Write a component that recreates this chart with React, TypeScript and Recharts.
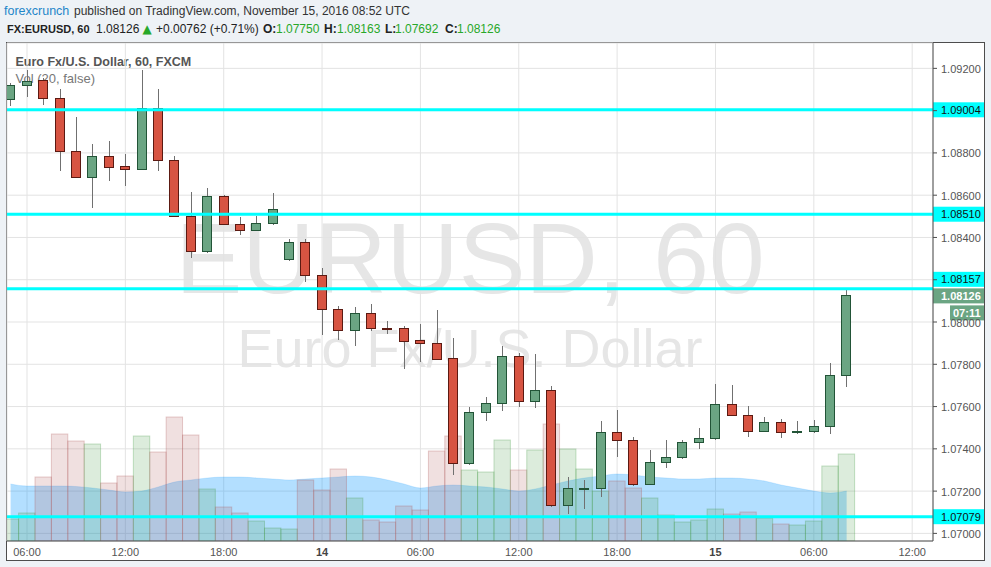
import React from "react";
import { ComposedChart, Bar, Area, XAxis, YAxis, CartesianGrid, ReferenceLine } from "recharts";

// ---- data (hourly candles, EUR/USD, Nov 11 05:00 -> Nov 15 08:00 UTC) ----
const opens = [
  1.09053, 1.0912, 1.09143, 1.09058, 1.08807, 1.08687, 1.08784, 1.08736, 1.08725, 1.09014,
  1.08765, 1.085, 1.08334, 1.08594, 1.08462, 1.08436, 1.08467, 1.08296, 1.08377, 1.08221,
  1.0806, 1.07961, 1.08041, 1.07971, 1.0797, 1.07913, 1.07899, 1.07828, 1.07331, 1.07573,
  1.07615, 1.07838, 1.07625, 1.07677, 1.07133, 1.07212, 1.07213, 1.07478, 1.0744, 1.07235,
  1.07336, 1.0736, 1.07431, 1.0745, 1.0761, 1.07558, 1.07483, 1.07525, 1.07479, 1.07483,
  1.07506, 1.0775,
];
const highs = [
  1.09129, 1.09192, 1.09154, 1.09102, 1.08968, 1.08842, 1.08857, 1.08795, 1.09192, 1.09102,
  1.08785, 1.08615, 1.08634, 1.086, 1.08495, 1.08503, 1.0861, 1.08392, 1.08392, 1.08254,
  1.08075, 1.08069, 1.08085, 1.08004, 1.07981, 1.0799, 1.08057, 1.07923, 1.07596, 1.07645,
  1.07886, 1.07852, 1.07848, 1.07697, 1.07266, 1.07252, 1.07531, 1.07583, 1.07454, 1.07394,
  1.07442, 1.07442, 1.07497, 1.07705, 1.07702, 1.07602, 1.0755, 1.07539, 1.07531, 1.07536,
  1.07806, 1.08163,
];
const lows = [
  1.09023, 1.09063, 1.09026, 1.08716, 1.0868, 1.08541, 1.08668, 1.08643, 1.0872, 1.08716,
  1.08498, 1.08301, 1.08325, 1.0846, 1.08413, 1.0843, 1.08459, 1.0829, 1.0819, 1.07938,
  1.07915, 1.07888, 1.07959, 1.07944, 1.07779, 1.07811, 1.07821, 1.07276, 1.07325, 1.07533,
  1.0758, 1.07599, 1.07594, 1.07126, 1.0709, 1.07117, 1.07173, 1.07363, 1.07225, 1.0723,
  1.0731, 1.0735, 1.07401, 1.07443, 1.07555, 1.07457, 1.0748, 1.07452, 1.0747, 1.07473,
  1.07471, 1.07692,
];
const closes = [
  1.0912, 1.09142, 1.09058, 1.08807, 1.08687, 1.08784, 1.08734, 1.08725, 1.09014, 1.08765,
  1.08501, 1.08334, 1.08594, 1.08462, 1.08436, 1.08467, 1.08533, 1.08377, 1.08221, 1.0806,
  1.07961, 1.08041, 1.0797, 1.07968, 1.07911, 1.07899, 1.07826, 1.07331, 1.07573, 1.07615,
  1.07838, 1.07625, 1.07677, 1.07133, 1.07213, 1.07214, 1.07478, 1.0744, 1.07235, 1.07336,
  1.0736, 1.07431, 1.0745, 1.0761, 1.07558, 1.07483, 1.07525, 1.07478, 1.07483, 1.07506,
  1.0775, 1.08126,
];
const volumes = [
  220, 280, 640, 1070, 1000, 970, 580, 650, 1050, 890,
  1240, 1060, 520, 340, 280, 200, 130, 120, 610, 510,
  720, 430, 210, 190, 350, 310, 900, 1050, 710, 690,
  1010, 710, 910, 1170, 920, 720, 500, 600, 530, 430,
  260, 190, 210, 320, 270, 290, 230, 170, 160, 200,
  750, 870,
];
const volumeMA = [
  570, 550, 550, 550, 545, 530, 510, 490, 500, 540,
  590, 610, 630, 640, 640, 630, 620, 610, 620, 630,
  640, 650, 640, 610, 570, 530, 550, 560, 550, 540,
  520, 500, 520, 560, 600, 630, 650, 670, 660, 640,
  630, 620, 620, 630, 630, 620, 600, 560, 530, 500,
  480, 500,
];

const timeTickIndex = [1, 7, 13, 19, 25, 31, 37, 43, 49, 55];
const timeTickLabels = ["06:00", "12:00", "18:00", "14", "06:00", "12:00", "18:00", "15", "06:00", "12:00"];
const priceTicks = [1.07, 1.072, 1.074, 1.076, 1.078, 1.08, 1.082, 1.084, 1.086, 1.088, 1.09, 1.092];
const hiddenPriceTicks = [1.082, 1.09];
const levelLines = [1.09004, 1.0851, 1.08157, 1.07079];
const levelShift = [0, 0, -9.5, 0];
const lastPrice = 1.08126;
const countdown = "07:11";

const data = opens.map((o, i) => ({
  i,
  open: o,
  high: highs[i],
  low: lows[i],
  close: closes[i],
  vol: volumes[i],
  ma: volumeMA[i],
}));

const FONT = "'Liberation Sans', Arial, sans-serif";
const UP_FILL = "#6ba583";
const UP_EDGE = "#225437";
const DN_FILL = "#d75442";
const DN_EDGE = "#5c1a12";

const renderCandle = (props: any) => {
  const { x, y, width, height, payload } = props;
  if (!payload || height == null || isNaN(height)) return <g />;
  const { open, close, high, low } = payload;
  const k = height / (high - low);
  const yOpen = y + (high - open) * k;
  const yClose = y + (high - close) * k;
  const up = close >= open;
  const cx = Math.round(x + width / 2) + 0.5;
  const top = Math.round(Math.min(yOpen, yClose)) + 0.5;
  const bot = Math.round(Math.max(yOpen, yClose)) + 0.5;
  const bh = Math.max(bot - top, 1);
  return (
    <g>
      <line x1={cx} x2={cx} y1={Math.round(y)} y2={Math.round(y + height)} stroke="#707070" strokeWidth={1} />
      <rect x={cx - 5} y={top} width={9} height={bh} fill={up ? UP_FILL : DN_FILL} stroke={up ? UP_EDGE : DN_EDGE} strokeWidth={1} />
    </g>
  );
};

const renderVol = (props: any) => {
  const { x, y, width, height, payload } = props;
  if (!payload || height == null || isNaN(height)) return <g />;
  const up = payload.close >= payload.open;
  return (
    <rect
      x={x - 0.2}
      y={y}
      width={width + 0.4}
      height={height}
      fill={up ? "rgba(71,155,71,0.19)" : "rgba(175,90,90,0.19)"}
      stroke={up ? "rgba(71,155,71,0.3)" : "rgba(175,90,90,0.3)"}
      strokeWidth={1}
    />
  );
};

const PriceTick = (props: any) => {
  const { x, y, payload } = props;
  const v = payload.value;
  if (hiddenPriceTicks.some((h) => Math.abs(h - v) < 1e-9)) return null;
  return (
    <text x={x} y={y} dy={4.5} textAnchor="start" fontSize={11} fill="#555" fontFamily={FONT}>
      {v.toFixed(5)}
    </text>
  );
};

const TimeTick = (props: any) => {
  const { x, y, payload } = props;
  const idx = timeTickIndex.indexOf(payload.value);
  const label = timeTickLabels[idx] ?? "";
  const isDay = label.indexOf(":") < 0;
  return (
    <text x={x} y={y} dy={9} textAnchor="middle" fontSize={11} fontWeight={isDay ? "bold" : "normal"} fill={isDay ? "#444" : "#555"} fontFamily={FONT}>
      {label}
    </text>
  );
};

const levelLabel = (value: number, shift: number) => (p: any) => {
  const vb = p.viewBox || {};
  const x = (vb.x ?? 0) + (vb.width ?? 0);
  const cy = (vb.y ?? 0) + shift;
  return (
    <g>
      <rect x={x} y={cy - 7.5} width={51} height={15} fill="#00ffff" />
      <text x={x + 8} y={cy + 4} fontSize={11} fill="#111" fontFamily={FONT}>
        {value.toFixed(5)}
      </text>
    </g>
  );
};

const lastLabel = (value: number) => (p: any) => {
  const vb = p.viewBox || {};
  const x = (vb.x ?? 0) + (vb.width ?? 0);
  const cy = (vb.y ?? 0) + 0.5;
  return (
    <g>
      <rect x={x} y={cy - 7.5} width={51} height={15} fill={UP_FILL} />
      <text x={x + 8} y={cy + 4} fontSize={11} fontWeight="bold" fill="#fff" fontFamily={FONT}>
        {value.toFixed(5)}
      </text>
      <rect x={x + 17} y={cy + 9.5} width={34} height={15} fill={UP_FILL} />
      <text x={x + 20} y={cy + 21} fontSize={11} fontWeight="bold" fill="#fff" fontFamily={FONT}>
        {countdown}
      </text>
    </g>
  );
};

const Background = () => (
  <svg width={991} height={567} style={{ position: "absolute", left: 0, top: 0 }}>
    <rect x={0} y={0} width={991} height={567} fill="#eef2f6" />
    <rect x={6.5} y={42.5} width={978} height={518} fill="#ffffff" stroke="#4d4d4d" strokeWidth={1} />
    <text y={15} fontSize={12} fontFamily={FONT}>
      <tspan x={4} fill="#1f86c9" fontSize={12.5}>forexcrunch</tspan>
      <tspan x={74} fill="#333">published on TradingView.com, November 15, 2016 08:52 UTC</tspan>
    </text>
    <text y={33} fontSize={12} fontFamily={FONT} fill="#222">
      <tspan x={7} fontWeight="bold" fontSize={11}>FX:EURUSD, 60</tspan>
      <tspan x={96}>1.08126</tspan>
      <tspan x={142.5} fill="#28a828" fontFamily="'DejaVu Sans', sans-serif" fontSize={12}>▲</tspan>
      <tspan x={156}>+0.00762 (+0.71%)</tspan>
      <tspan x={263} fontWeight="bold">O:</tspan>
      <tspan x={276} fill="#28a828">1.07750</tspan>
      <tspan x={324} fontWeight="bold">H:</tspan>
      <tspan x={337} fill="#28a828">1.08163</tspan>
      <tspan x={385} fontWeight="bold">L:</tspan>
      <tspan x={395} fill="#28a828">1.07692</tspan>
      <tspan x={445} fontWeight="bold">C:</tspan>
      <tspan x={457} fill="#28a828">1.08126</tspan>
    </text>
    <text x={470} y={293} textAnchor="middle" fontSize={100} fill="#e6e6e6" fontFamily={FONT}>
      EURUSD, 60
    </text>
    <text x={470} y={367} textAnchor="middle" fontSize={54} fill="#e6e6e6" fontFamily={FONT}>
      Euro Fx/U.S. Dollar
    </text>
    <text x={15.5} y={66} fontSize={12.5} fontWeight="bold" fill="#555" fontFamily={FONT}>
      Euro Fx/U.S. Dollar, 60, FXCM
    </text>
    <text x={15.5} y={83} fontSize={13} fill="#777" fontFamily={FONT}>
      Vol (20, false)
    </text>
  </svg>
);

export default function App() {
  return (
    <div style={{ position: "absolute", left: 0, top: 0, width: 991, height: 567, overflow: "hidden" }}>
      <Background />
      <div style={{ position: "absolute", left: 0, top: 0 }}>
        <ComposedChart width={991} height={567} data={data} margin={{ top: 43, right: 7, bottom: 7, left: 7 }}>
          <CartesianGrid xAxisId="px" yAxisId="price" stroke="#e3e3e3" />
          <XAxis
            xAxisId="px"
            dataKey="i"
            type="number"
            domain={[-0.22, 56.27]}
            allowDataOverflow
            ticks={timeTickIndex}
            interval={0}
            height={19}
            tickSize={4}
            tickMargin={2}
            tickLine={false}
            axisLine={{ stroke: "#4d4d4d" }}
            tick={<TimeTick />}
          />
          <XAxis xAxisId="vx" dataKey="i" type="number" domain={[-0.22, 56.27]} allowDataOverflow hide />
          <YAxis
            yAxisId="price"
            orientation="right"
            domain={[1.06964, 1.0932]}
            allowDataOverflow
            ticks={priceTicks}
            interval={0}
            width={51}
            tickSize={4}
            tickMargin={4}
            axisLine={{ stroke: "#4d4d4d" }}
            tickLine={{ stroke: "#4d4d4d" }}
            tick={<PriceTick />}
          />
          <YAxis yAxisId="vol" domain={[0, 4980]} allowDataOverflow hide />
          <Bar xAxisId="vx" yAxisId="vol" dataKey="vol" barSize={16} shape={renderVol} isAnimationActive={false} />
          <Area
            xAxisId="vx"
            yAxisId="vol"
            dataKey="ma"
            type="monotone"
            fill="#0496ff"
            fillOpacity={0.3}
            stroke="#0496ff"
            strokeOpacity={0.15}
            dot={false}
            activeDot={false}
            isAnimationActive={false}
          />
          <Bar
            xAxisId="px"
            yAxisId="price"
            dataKey={(d: any) => [d.low, d.high]}
            barSize={10}
            shape={renderCandle}
            isAnimationActive={false}
          />
          {levelLines.map((v, k) => (
            <ReferenceLine
              key={"lv" + k}
              xAxisId="px"
              yAxisId="price"
              y={v}
              stroke="#00ffff"
              strokeWidth={3}
              label={levelLabel(v, levelShift[k])}
            />
          ))}
          <ReferenceLine xAxisId="px" yAxisId="price" y={lastPrice} stroke="none" strokeOpacity={0} label={lastLabel(lastPrice)} />
        </ComposedChart>
      </div>
    </div>
  );
}
